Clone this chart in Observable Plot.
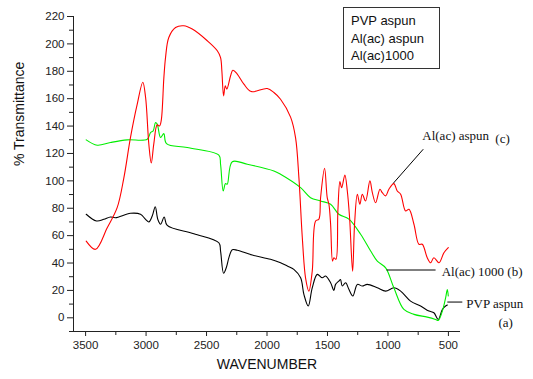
<!DOCTYPE html>
<html><head><meta charset="utf-8">
<script src="https://cdn.jsdelivr.net/npm/d3@7"></script>
<script src="https://cdn.jsdelivr.net/npm/@observablehq/plot@0.6"></script>
<style>
body{margin:0;background:#fff}
#wrap{position:relative;width:533px;height:379px}
#legend{position:absolute;left:343px;top:7px;width:97px;height:62px;border:1px solid #333;box-sizing:border-box;font:13px "Liberation Sans",Arial,sans-serif;padding:4px 0 0 7px;line-height:17.6px;color:#111;background:#fff}
</style></head><body>
<div id="wrap"></div>
<script>
// Series names (legend)
const seriesNames = ["PVP aspun", "Al(ac) aspun", "Al(ac)1000"];

// PVP aspun (a) - black
const pvpWave = [3495,3410,3349,3294,3253,3129,3046,3004,2977,2949,2924,2903,2880,2850,2825,2605,2398,2384,2359,2335,2315,2287,2246,2122,1971,1888,1832,1778,1722,1695,1659,1626,1584,1543,1516,1474,1447,1433,1406,1392,1378,1350,1323,1290,1253,1212,1171,1088,1019,951,895,813,730,661,620,584,550,523,509];
const pvpT    = [75.6,70.7,71.9,73.6,73.1,76.3,75.6,71.9,70,74.3,81.1,71.9,68.3,73.6,67.5,61.4,54.8,48.8,32.5,37.1,43.9,49.7,49.3,45.8,42.7,40.2,37.8,35.4,29.2,17.1,8.6,21.9,31.7,29.2,30.5,25.6,20,24.4,26.8,28,23.2,25.6,20.8,15.9,24.4,23.2,24.4,21.9,19.5,21.9,19.5,12.2,8.6,4.9,3.7,-1.2,6.1,8.6,9.3];

// Al(ac) aspun (c) - red
const alAspunWave = [3495,3418,3321,3239,3184,3129,3073,3027,3004,2977,2957,2936,2908,2889,2875,2853,2839,2812,2756,2688,2618,2494,2411,2384,2373,2359,2345,2332,2301,2282,2246,2191,2130,1998,1943,1888,1805,1764,1736,1708,1681,1654,1626,1598,1571,1557,1524,1502,1488,1474,1458,1447,1430,1414,1397,1383,1356,1336,1317,1292,1276,1253,1232,1212,1185,1149,1129,1102,1066,1047,1019,992,951,923,895,854,826,785,744,716,675,647,620,578,537,501];
const alAspunT    = [56,50,65.8,80.4,102,131.6,156,172,161,126.7,113,127,141,140,143.8,175,190,204.7,212,213.2,210.8,202.3,195,190,180,162,169.4,167,176.7,180.8,178,170.6,165.2,167.4,164.5,159.6,146.5,131.6,102,58.5,29,19.5,34,70.7,72,87.7,109.2,87.7,82.9,68.3,41.4,43.9,42.7,78,99.4,95,104.3,92.6,73,34,68.3,90.2,82.9,90.2,85.3,100,91.4,84,93.9,91.4,89,93.9,98,92.6,90.2,78,79.2,68.3,53.7,53.7,43.9,40.2,43.9,40.2,47.5,51.2];

// Al(ac) 1000 (b) - green
const al1000Wave = [3495,3404,3294,3156,2990,2963,2941,2922,2908,2880,2853,2831,2660,2398,2384,2362,2343,2329,2287,2163,1943,1888,1722,1640,1557,1474,1406,1323,1226,1143,1088,1019,951,868,785,675,606,584,550,523,509,501];
const al1000T    = [129.9,126,128,129.9,130.4,135.2,136.5,142.5,141.4,131.6,134.5,127.2,124.3,118.7,112.1,92.6,98,97.5,114,112.1,107.2,104.8,95,87.7,85.3,82.9,75.6,72,61,48.8,41.4,36.5,21.9,6.1,2.5,0.5,-1.2,-1.9,4.9,14.6,20.7,15.9];

// Annotations (data coordinates)
const annoLabels = ["Al(ac) aspun", "Al(ac) 1000 (b)", "PVP aspun"];
const annoX      = [716, 556, 352];
const annoY      = [133, 33.6, 10.2];
const subLabels  = ["(c)", "(a)"];
const subX       = [112, 27];
const subY       = [130.4, -3.7];
const subAnchor  = ["start", "middle"];
const leadX1 = [708, 1011, 509];
const leadY1 = [123.1, 34.9, 11.5];
const leadX2 = [956, 606, 385];
const leadY2 = [98.2, 34.9, 11.5];

const xMajor = [3500,3000,2500,2000,1500,1000,500];
const xMinor = [3250,2750,2250,1750,1250,750];
const yMajor = [0,20,40,60,80,100,120,140,160,180,200,220];
const yMinor = [-10,10,30,50,70,90,110,130,150,170,190,210];

const toRows = (w, t) => w.map((x, i) => ({x, y: t[i]}));
const pvp = toRows(pvpWave, pvpT);
const alAspun = toRows(alAspunWave, alAspunT);
const al1000 = toRows(al1000Wave, al1000T);
const anno = annoLabels.map((t, i) => ({t, x: annoX[i], y: annoY[i]}));
const subs = subLabels.map((t, i) => ({t, x: subX[i], y: subY[i], a: subAnchor[i]}));
const leads = leadX1.map((x1, i) => ({x1, y1: leadY1[i], x2: leadX2[i], y2: leadY2[i]}));

const sans = "'Liberation Sans', Arial, sans-serif";
const serif = "'Liberation Serif', 'Times New Roman', serif";

const chart = Plot.plot({
  width: 533,
  height: 379,
  marginLeft: 73,
  marginRight: 73,
  marginTop: 16,
  marginBottom: 48,
  style: {fontFamily: sans, fontSize: "11.5px", color: "#222", background: "#fff"},
  x: {domain: [3600, 400]},
  y: {domain: [-10, 220]},
  marks: [
    Plot.axisX({ticks: xMajor, tickSize: 5, tickPadding: 4, label: null, tickFormat: d => String(d)}),
    Plot.axisX({ticks: xMinor, tickSize: 4, label: null, tickFormat: () => ""}),
    Plot.axisY({ticks: yMajor, tickSize: 6, tickPadding: 3, label: null}),
    Plot.axisY({ticks: yMinor, tickSize: 4, label: null, tickFormat: () => ""}),
    Plot.ruleX([3600], {stroke: "#222"}),
    Plot.ruleY([-10], {stroke: "#222"}),
    Plot.line(pvp, {x: "x", y: "y", stroke: "#000", strokeWidth: 1.1, curve: "catmull-rom"}),
    Plot.line(al1000, {x: "x", y: "y", stroke: "#00ee00", strokeWidth: 1.1, curve: "catmull-rom"}),
    Plot.line(alAspun, {x: "x", y: "y", stroke: "#ff0000", strokeWidth: 1.1, curve: "catmull-rom"}),
    Plot.link(leads, {x1: "x1", y1: "y1", x2: "x2", y2: "y2", stroke: "#000", strokeWidth: 1}),
    Plot.text(anno, {x: "x", y: "y", text: "t", textAnchor: "start", fontFamily: serif, fontSize: 13, fill: "#111"}),
    Plot.text(subs.filter(d => d.a === "start"), {x: "x", y: "y", text: "t", textAnchor: "start", fontFamily: serif, fontSize: 13, fill: "#111"}),
    Plot.text(subs.filter(d => d.a === "middle"), {x: "x", y: "y", text: "t", fontFamily: serif, fontSize: 13, fill: "#111"}),
    Plot.text(["% Transmittance"], {frameAnchor: "left", dx: -54, dy: -8, rotate: -90, fontSize: 14, fill: "#111"}),
    Plot.text(["WAVENUMBER"], {frameAnchor: "bottom", dy: 37, fontSize: 14, fill: "#111"})
  ]
});
const wrap = document.getElementById("wrap");
wrap.appendChild(chart);
const legend = document.createElement("div");
legend.id = "legend";
legend.innerHTML = seriesNames.map(s => `<div>${s}</div>`).join("");
wrap.appendChild(legend);
</script>
</body></html>
